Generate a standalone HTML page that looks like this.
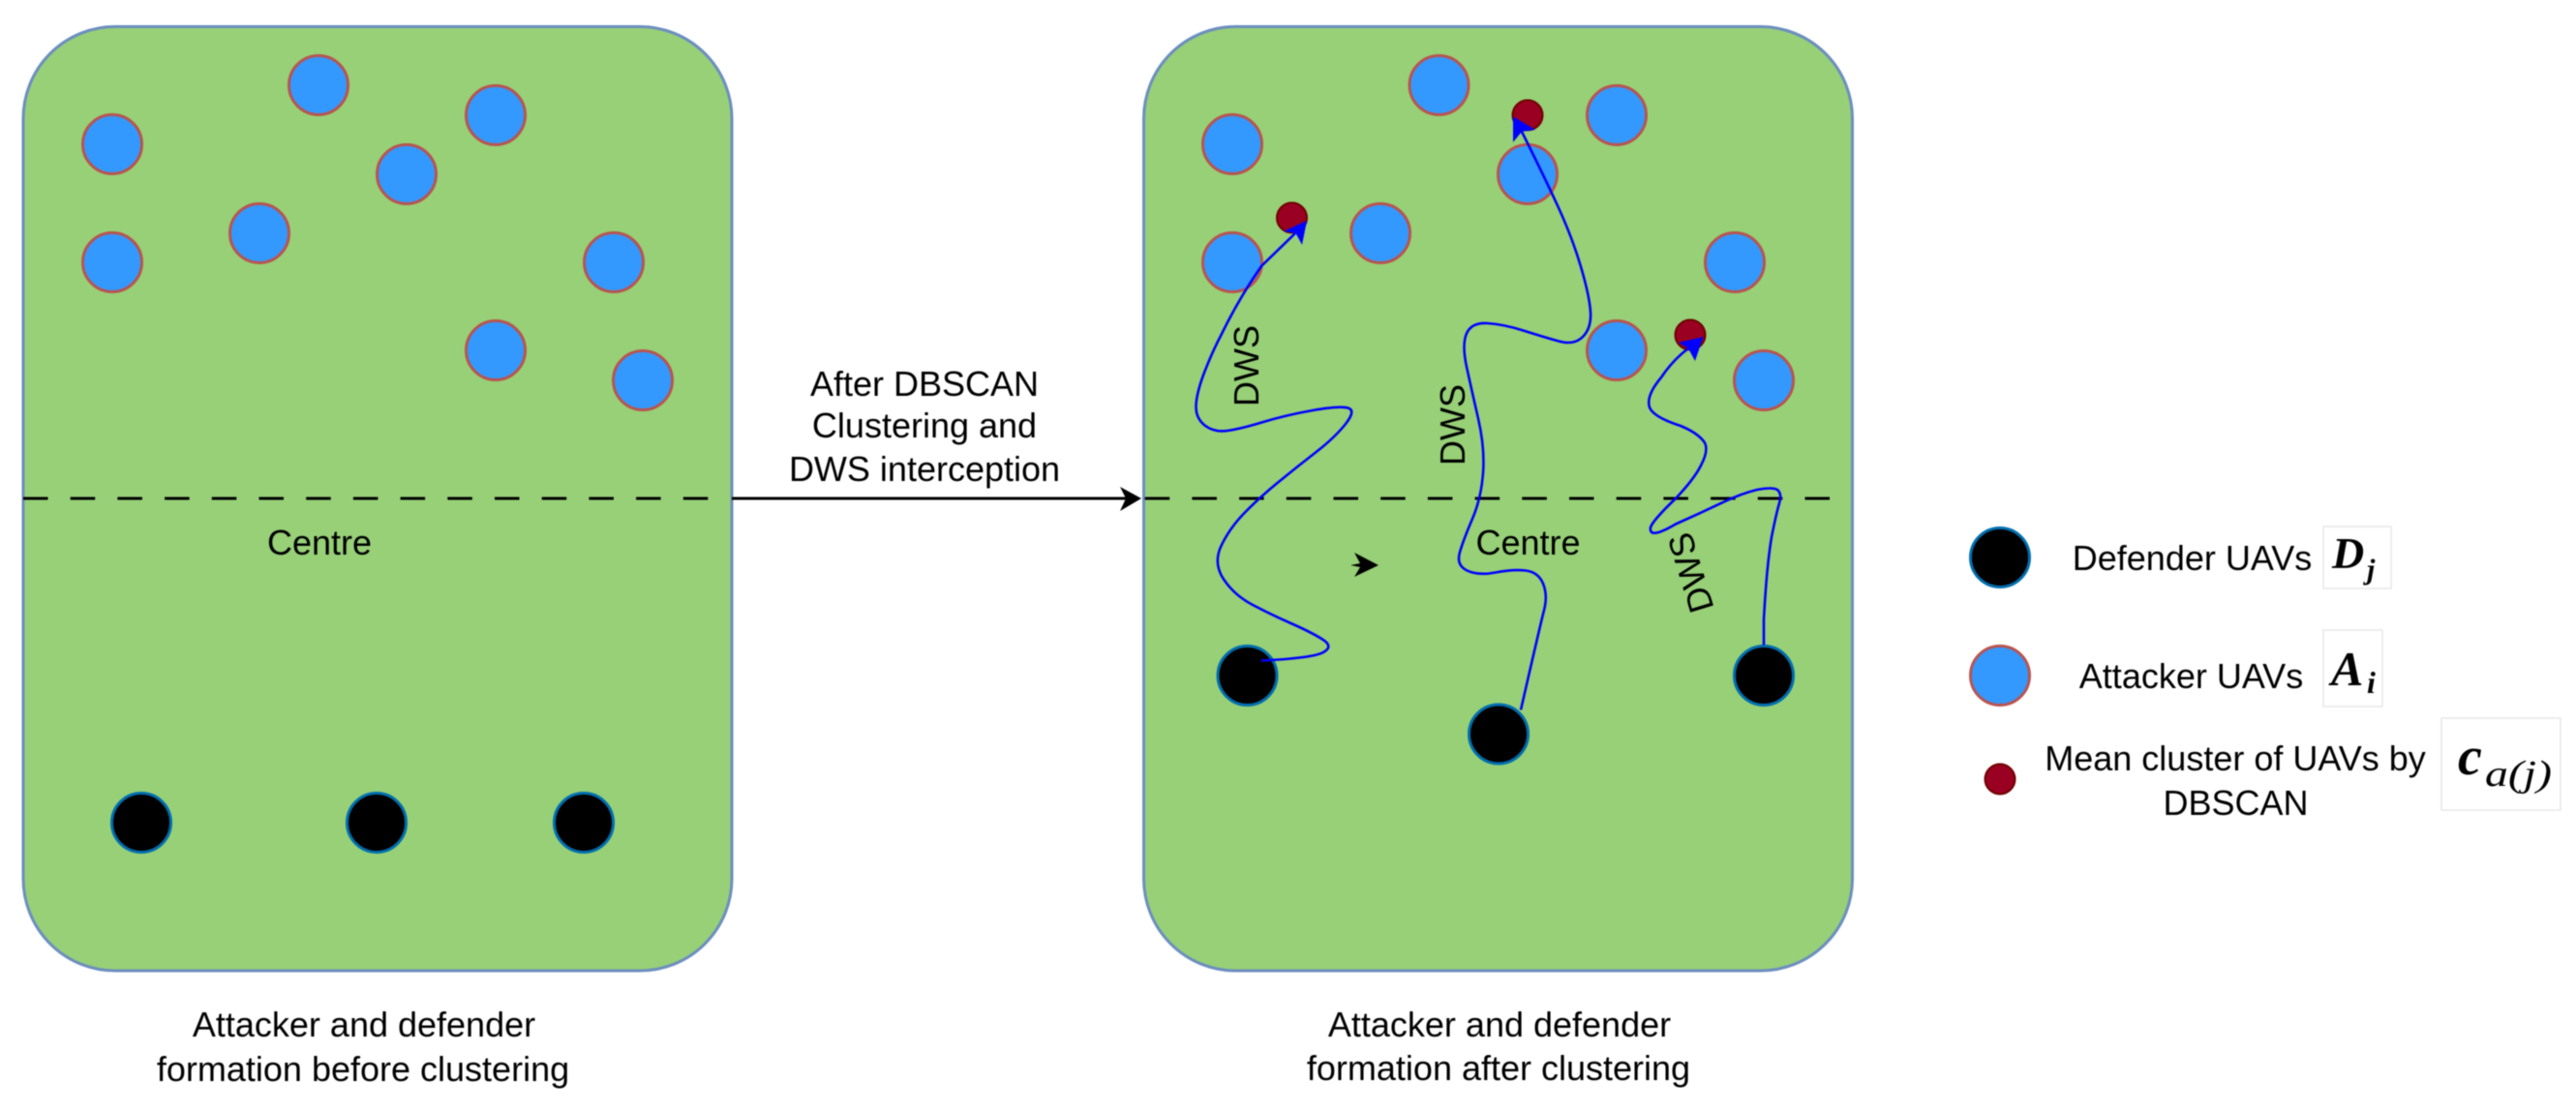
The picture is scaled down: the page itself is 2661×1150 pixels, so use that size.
<!DOCTYPE html>
<html>
<head>
<meta charset="utf-8">
<style>
html,body{margin:0;padding:0;background:#fff;width:2661px;height:1150px;overflow:hidden}
svg{display:block;filter:blur(.6px)}
text{font-family:"Liberation Sans",Arial,sans-serif;font-size:36px;fill:#000;text-anchor:middle}
.m{font-family:"Liberation Serif",serif;font-style:italic;font-weight:bold;text-anchor:start}
.p{fill:#97D077;stroke:#6C8EBF;stroke-width:3}
.a{fill:#3399FF;stroke:#B85450;stroke-width:3}
.d{fill:#000;stroke:#006EAF;stroke-width:3}
.c{fill:#990021;stroke:#6F0000;stroke-width:2}
.b{fill:none;stroke:#0000FF;stroke-width:2.600}
.h{fill:#0000FF}
.bx{fill:#fff;stroke:#e8e8e8;stroke-width:1.5}
.ds{stroke:#000;stroke-width:3;stroke-dasharray:25.5 23.2;fill:none}
</style>
</head>
<body>
<svg width="2661" height="1150" viewBox="0 0 2661 1150" xmlns="http://www.w3.org/2000/svg">
<rect class="p" x="24" y="27.5" width="732" height="975.5" rx="95" ry="95"/>
<rect class="p" x="1181.5" y="27.5" width="732" height="975.5" rx="95" ry="95"/>

<!-- left attackers -->
<circle class="a" cx="116" cy="149" r="30.5"/>
<circle class="a" cx="329" cy="88" r="30.5"/>
<circle class="a" cx="512" cy="119" r="30.5"/>
<circle class="a" cx="420" cy="180" r="30.5"/>
<circle class="a" cx="116" cy="271" r="30.5"/>
<circle class="a" cx="268" cy="241" r="30.5"/>
<circle class="a" cx="634" cy="271" r="30.5"/>
<circle class="a" cx="512" cy="362" r="30.5"/>
<circle class="a" cx="664" cy="393" r="30.5"/>
<!-- left defenders -->
<circle class="d" cx="146" cy="850" r="30.5"/>
<circle class="d" cx="389" cy="850" r="30.5"/>
<circle class="d" cx="603" cy="850" r="30.5"/>
<line class="ds" x1="24" y1="515" x2="733" y2="515"/>
<text x="330" y="573">Centre</text>

<!-- connector -->
<line x1="756" y1="515" x2="1165" y2="515" stroke="#000" stroke-width="3"/>
<polygon points="1179,515 1157,503 1163,515 1157,528" fill="#000"/>
<text x="955" y="409">After DBSCAN</text>
<text x="955" y="452">Clustering and</text>
<text x="955" y="497">DWS interception</text>

<!-- right attackers -->
<circle class="a" cx="1273" cy="149" r="30.5"/>
<circle class="a" cx="1486.500" cy="88" r="30.5"/>
<circle class="a" cx="1670" cy="119" r="30.5"/>
<circle class="a" cx="1578" cy="180" r="30.5"/>
<circle class="a" cx="1273" cy="271" r="30.5"/>
<circle class="a" cx="1426" cy="241" r="30.5"/>
<circle class="a" cx="1792" cy="271" r="30.5"/>
<circle class="a" cx="1670" cy="362" r="30.5"/>
<circle class="a" cx="1822" cy="393" r="30.5"/>
<!-- means -->
<circle class="c" cx="1334.5" cy="225" r="15.500"/>
<circle class="c" cx="1578" cy="119" r="15.500"/>
<circle class="c" cx="1746" cy="346" r="15.500"/>
<!-- right defenders -->
<circle class="d" cx="1288.5" cy="698" r="30.5"/>
<circle class="d" cx="1548" cy="758.5" r="30.5"/>
<circle class="d" cx="1822" cy="698" r="30.5"/>

<line class="ds" x1="1182.7" y1="515" x2="1891" y2="515"/>
<polygon points="1424,584 1399,571 1405,582 1395,584 1405,586 1399,596" fill="#000"/>
<text x="1578.5" y="573">Centre</text>

<!-- curves -->
<path class="b" d="M1303 682.6 Q1356 680 1367 674 Q1378 668 1366 660.5 Q1354 653 1333.5 644 Q1313 635 1294 625 Q1275 615 1264 598.5 Q1253 582 1261.5 564 Q1270 546 1285 530.5 Q1300 515 1319.5 499 Q1339 483 1359 467.5 Q1379 452 1390 438 Q1401 424 1392.5 421.5 Q1384 419 1356 424 Q1328 429 1305 436 Q1282 443 1268 445 Q1254 447 1244.5 439.5 Q1235 432 1235.5 419 Q1236 406 1244 385 Q1252 364 1262 345 Q1280 308 1303 275 L1338 241"/>
<polygon class="h" points="1350,228 1326,239 1338.5,241 1345,253"/>

<path class="b" d="M1571 733.5 Q1591 646 1595 630.5 Q1599 615 1594 603 Q1589 591 1576 589.5 Q1563 588 1545 591.5 Q1527 595 1515.500 589.5 Q1504 584 1508 570.5 Q1512 557 1521 536 Q1530 515 1532 489 Q1534 463 1527 432.5 Q1520 402 1515 379 Q1510 356 1515 344.5 Q1520 333 1536.5 334 Q1553 335 1573.5 341.5 Q1594 348 1610 352.5 Q1626 357 1635 348 Q1644 339 1643 322.5 Q1642 306 1633 275.5 Q1624 245 1609 212.5 Q1594 180 1572 136"/>
<polygon class="h" points="1563,120.5 1563,147 1572,136 1586,134"/>

<path class="b" d="M1822 666.5 L1822 640 Q1825 585 1830 555 Q1835 530 1838 520 Q1841 510 1836 506 Q1831 503 1815 506 Q1799 510 1782 518 Q1757 530 1731 541.5 Q1703 558 1705 545 Q1707 538 1731 515 Q1750 495 1757 481 Q1766 464 1760 456 Q1753 447 1736 440 Q1708 431 1704 421 Q1700 409 1716 390 Q1728 372 1744 360"/>
<polygon class="h" points="1759.5,348 1734,354 1744,360 1751,373"/>

<!-- DWS labels -->
<text transform="translate(1287 378) rotate(-90)" x="0" y="13">DWS</text>
<text transform="translate(1500 439) rotate(-90)" x="0" y="13">DWS</text>
<text transform="translate(1746 592) rotate(-107)" x="0" y="13">DWS</text>

<!-- captions -->
<text x="376" y="1071">Attacker and defender</text>
<text x="375" y="1117">formation before clustering</text>
<text x="1549" y="1071">Attacker and defender</text>
<text x="1548" y="1116">formation after clustering</text>

<!-- legend -->
<circle class="d" cx="2066" cy="576" r="30.5"/>
<circle class="a" cx="2066" cy="698" r="30.5"/>
<circle class="c" cx="2066" cy="805" r="15.5"/>
<text x="2264.5" y="589">Defender UAVs</text>
<text x="2263.5" y="711">Attacker UAVs</text>
<text x="2309" y="796">Mean cluster of UAVs by</text>
<text x="2309.5" y="842">DBSCAN</text>

<rect class="bx" x="2400" y="544" width="70" height="64"/>
<rect class="bx" x="2400" y="651" width="61" height="79"/>
<rect class="bx" x="2522" y="742" width="123" height="95"/>
<text class="m" x="2409" y="587" style="font-size:46px">D</text>
<text class="m" x="2445" y="598" style="font-size:30px">j</text>
<text class="m" x="2408" y="708" style="font-size:50px">A</text>
<text class="m" x="2445" y="716" style="font-size:32px">i</text>
<text class="m" x="2539" y="800" style="font-size:56px">c</text>
<text class="m" x="2567" y="812" style="font-size:38px;font-weight:normal" textLength="69" lengthAdjust="spacingAndGlyphs">a(j)</text>
</svg>
</body>
</html>
